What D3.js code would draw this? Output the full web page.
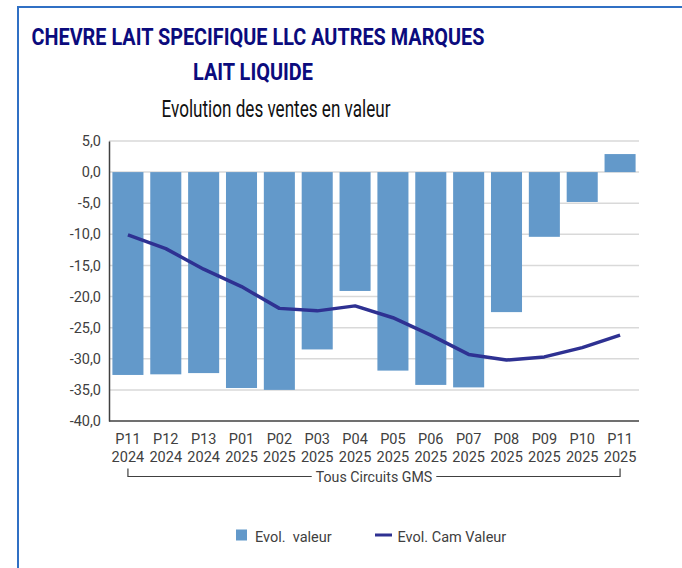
<!DOCTYPE html>
<html>
<head>
<meta charset="utf-8">
<script src="https://cdn.jsdelivr.net/npm/d3@7"></script>
<style>
  html, body { margin: 0; padding: 0; background: #fff; }
  svg { display: block; }
</style>
</head>
<body>
<svg id="chart" width="682" height="568"></svg>
<script>
// Periods on the x axis (two-line labels)
const periods = ["P11", "P12", "P13", "P01", "P02", "P03", "P04", "P05", "P06", "P07", "P08", "P09", "P10", "P11"];
const years = ["2024", "2024", "2024", "2025", "2025", "2025", "2025", "2025", "2025", "2025", "2025", "2025", "2025", "2025"];

// Evol. valeur (bars), in %
const evolValeur = [-32.6, -32.5, -32.3, -34.7, -35.0, -28.5, -19.1, -31.9, -34.2, -34.6, -22.5, -10.4, -4.8, 2.9];
// Evol. Cam Valeur (line), in %
const evolCamValeur = [-10.1, -12.3, -15.6, -18.4, -21.9, -22.3, -21.5, -23.4, -26.2, -29.3, -30.2, -29.7, -28.2, -26.2];

// Y axis ticks
const yTicks = [5, 0, -5, -10, -15, -20, -25, -30, -35, -40];

const titleLines = ["CHEVRE LAIT SPECIFIQUE LLC AUTRES MARQUES", "LAIT LIQUIDE"];
const subtitle = "Evolution des ventes en valeur";
const groupLabel = "Tous Circuits GMS";
const legendLabels = ["Evol.  valeur", "Evol. Cam Valeur"];

const barColor = "#6399ca";
const lineColor = "#2e3192";
const textColor = "#404040";
const fontFamily = "Roboto, 'Noto Sans', sans-serif";

const svg = d3.select("#chart");

// Frame
svg.append("path")
  .attr("d", "M18,568 V7 H682")
  .attr("fill", "none")
  .attr("stroke", "#3070c4")
  .attr("stroke-width", 2);

// Titles
const title = svg.append("g")
  .attr("font-family", fontFamily)
  .attr("font-weight", 700)
  .attr("fill", "#0b0b7d")
  .attr("text-anchor", "middle");
title.append("text")
  .attr("x", 258).attr("y", 44.5)
  .attr("font-size", 23)
  .attr("textLength", 453)
  .attr("lengthAdjust", "spacingAndGlyphs")
  .text(titleLines[0]);
title.append("text")
  .attr("x", 253).attr("y", 79.5)
  .attr("font-size", 23)
  .attr("textLength", 120)
  .attr("lengthAdjust", "spacingAndGlyphs")
  .text(titleLines[1]);

svg.append("text")
  .attr("x", 276).attr("y", 117)
  .attr("text-anchor", "middle")
  .attr("font-family", fontFamily)
  .attr("font-size", 24)
  .attr("fill", "#111")
  .attr("textLength", 229)
  .attr("lengthAdjust", "spacingAndGlyphs")
  .text(subtitle);

// Plot area
const plot = { left: 109, right: 639, top: 141, bottom: 421 };

const x = d3.scaleBand()
  .domain(d3.range(periods.length))
  .range([plot.left, plot.right])
  .paddingInner(0.18)
  .paddingOuter(0.09);

const y = d3.scaleLinear()
  .domain([-40, 5])
  .range([plot.bottom, plot.top]);

const fmt = v => v.toFixed(1).replace(".", ",");

// Gridlines
svg.append("g")
  .selectAll("line")
  .data(yTicks.filter(t => t !== -40))
  .join("line")
  .attr("x1", plot.left).attr("x2", plot.right)
  .attr("y1", d => y(d)).attr("y2", d => y(d))
  .attr("stroke", "#d9d9d9")
  .attr("stroke-width", 1.5);

// Y axis
const yAxis = svg.append("g")
  .attr("transform", `translate(${plot.left},0)`)
  .call(d3.axisLeft(y).tickValues(yTicks).tickFormat(fmt).tickSize(0).tickPadding(8));
yAxis.select(".domain").attr("stroke", "#404040").attr("stroke-width", 1.5);
yAxis.selectAll("text")
  .attr("font-family", fontFamily)
  .attr("font-size", 14.5)
  .attr("fill", textColor);

// Bars
svg.append("g")
  .selectAll("rect")
  .data(evolValeur)
  .join("rect")
  .attr("x", (d, i) => x(i))
  .attr("width", x.bandwidth())
  .attr("y", d => y(Math.max(0, d)))
  .attr("height", d => Math.abs(y(d) - y(0)))
  .attr("fill", barColor);

// Bottom axis line
svg.append("line")
  .attr("x1", plot.left).attr("x2", plot.right)
  .attr("y1", plot.bottom).attr("y2", plot.bottom)
  .attr("stroke", "#404040")
  .attr("stroke-width", 1.5);

// Line series
const line = d3.line()
  .x((d, i) => x(i) + x.bandwidth() / 2)
  .y(d => y(d));
svg.append("path")
  .datum(evolCamValeur)
  .attr("d", line)
  .attr("fill", "none")
  .attr("stroke", lineColor)
  .attr("stroke-width", 3.5)
  .attr("stroke-linejoin", "round");

// X labels (two lines)
const xl = svg.append("g")
  .attr("font-family", fontFamily)
  .attr("font-size", 14.5)
  .attr("fill", textColor)
  .attr("text-anchor", "middle");
xl.selectAll("text.p")
  .data(periods)
  .join("text")
  .attr("class", "p")
  .attr("x", (d, i) => x(i) + x.bandwidth() / 2)
  .attr("y", 443.5)
  .text(d => d);
xl.selectAll("text.yr")
  .data(years)
  .join("text")
  .attr("class", "yr")
  .attr("x", (d, i) => x(i) + x.bandwidth() / 2)
  .attr("y", 461.5)
  .text(d => d);

// Group bracket
const bx0 = x(0) + x.bandwidth() / 2;
const bx1 = x(periods.length - 1) + x.bandwidth() / 2;
const by = 476.5;
const gLabel = svg.append("text")
  .attr("x", (bx0 + bx1) / 2).attr("y", by + 5)
  .attr("text-anchor", "middle")
  .attr("font-family", fontFamily)
  .attr("font-size", 14.2)
  .attr("fill", textColor)
  .text(groupLabel);
const lw = gLabel.node().getComputedTextLength();
const gap = 4;
svg.append("path")
  .attr("d", `M${bx0},${by - 8} V${by} H${(bx0 + bx1) / 2 - lw / 2 - gap}` +
             `M${(bx0 + bx1) / 2 + lw / 2 + gap},${by} H${bx1} V${by - 8}`)
  .attr("fill", "none")
  .attr("stroke", "#404040")
  .attr("stroke-width", 1.2);

// Legend
const lg = svg.append("g")
  .attr("font-family", fontFamily)
  .attr("font-size", 14.5)
  .attr("fill", textColor);
lg.append("rect")
  .attr("x", 236).attr("y", 529.5)
  .attr("width", 11).attr("height", 11)
  .attr("fill", barColor);
lg.append("text")
  .attr("x", 255).attr("y", 541.5)
  .attr("xml:space", "preserve")
  .style("white-space", "pre")
  .text(legendLabels[0]);
lg.append("line")
  .attr("x1", 375).attr("x2", 392)
  .attr("y1", 535).attr("y2", 535)
  .attr("stroke", lineColor)
  .attr("stroke-width", 3);
lg.append("text")
  .attr("x", 397.5).attr("y", 541.5)
  .text(legendLabels[1]);
</script>
</body>
</html>
